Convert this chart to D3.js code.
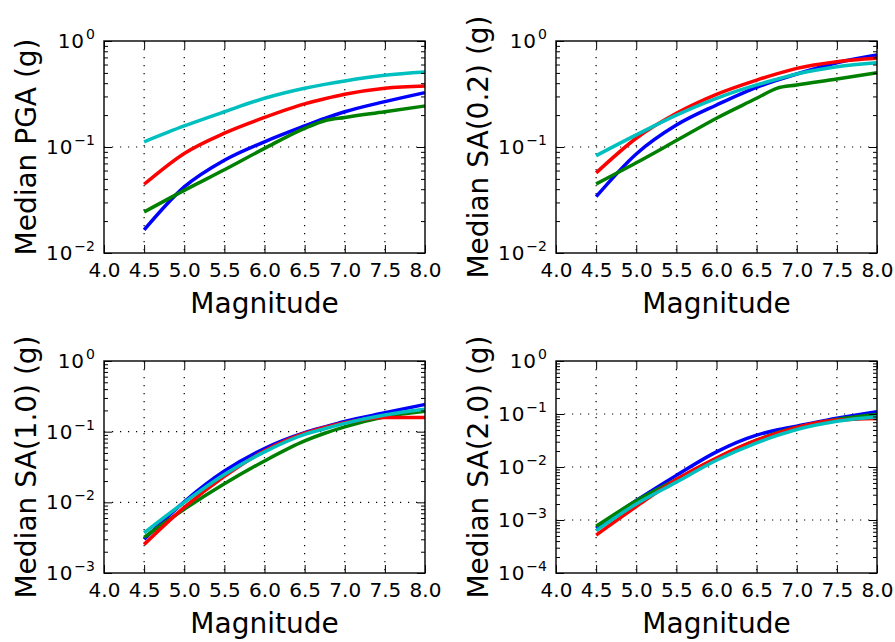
<!DOCTYPE html>
<html>
<head>
<meta charset="utf-8">
<script src="https://cdn.jsdelivr.net/npm/d3@7"></script>
<style>
  body { margin: 0; background: #fff; }
  text { font-family: "DejaVu Sans", sans-serif; fill: #000; }
  .tick line { stroke: #000; stroke-width: 1; }
  .domain { display: none; }
  .grid { stroke: #000; stroke-width: 1.2; stroke-dasharray: 1.2,6.8; }
  .line { fill: none; stroke-width: 3.5; }
</style>
</head>
<body>
<div class="chart"></div>
<script>
// magnitudes where the curves were read
var mags = [4.5, 5.0, 5.5, 6.0, 6.5, 6.75, 7.0, 7.5, 8.0];

// PGA
var pgaBlue  = [0.0165, 0.042, 0.075, 0.112, 0.158, 0.186, 0.215, 0.268, 0.326];
var pgaGreen = [0.0244, 0.039, 0.061, 0.097, 0.150, 0.177, 0.190, 0.215, 0.244];
var pgaRed   = [0.0445, 0.087, 0.135, 0.190, 0.255, 0.285, 0.314, 0.358, 0.376];
var pgaCyan  = [0.112, 0.158, 0.215, 0.288, 0.358, 0.390, 0.420, 0.475, 0.510];

// SA(0.2)
var sa02Blue  = [0.034, 0.086, 0.161, 0.249, 0.366, 0.425, 0.488, 0.624, 0.738];
var sa02Green = [0.0448, 0.071, 0.115, 0.187, 0.288, 0.358, 0.385, 0.438, 0.502];
var sa02Red   = [0.057, 0.121, 0.208, 0.314, 0.428, 0.490, 0.552, 0.638, 0.687];
var sa02Cyan  = [0.0828, 0.130, 0.200, 0.288, 0.385, 0.435, 0.488, 0.572, 0.624];

// SA(1.0)
var sa10Blue  = [0.0030, 0.0102, 0.0277, 0.0578, 0.0968, 0.117, 0.140, 0.185, 0.243];
var sa10Green = [0.0032, 0.0080, 0.0183, 0.0385, 0.074, 0.095, 0.117, 0.163, 0.195];
var sa10Red   = [0.00254, 0.0085, 0.0233, 0.0535, 0.095, 0.115, 0.134, 0.159, 0.159];
var sa10Cyan  = [0.0037, 0.0100, 0.0248, 0.0518, 0.0916, 0.110, 0.131, 0.172, 0.207];

// SA(2.0)
var sa20Blue  = [0.00070, 0.00233, 0.00695, 0.0193, 0.0399, 0.050, 0.059, 0.083, 0.110];
var sa20Green = [0.00076, 0.0023, 0.0058, 0.0145, 0.032, 0.044, 0.0557, 0.079, 0.098];
var sa20Red   = [0.00052, 0.00179, 0.0058, 0.0148, 0.032, 0.043, 0.0557, 0.0767, 0.0826];
var sa20Cyan  = [0.00063, 0.00201, 0.00519, 0.0134, 0.0286, 0.039, 0.051, 0.073, 0.089];

var xTicks = [4.0, 4.5, 5.0, 5.5, 6.0, 6.5, 7.0, 7.5, 8.0];
var yLabels = ["Median PGA (g)", "Median SA(0.2) (g)", "Median SA(1.0) (g)", "Median SA(2.0) (g)"];
var yMinExp = [-2, -2, -3, -4];
var colors = ["#0000ff", "#008000", "#ff0000", "#00bfbf"];

var panelSeries = [
  [pgaBlue, pgaGreen, pgaRed, pgaCyan],
  [sa02Blue, sa02Green, sa02Red, sa02Cyan],
  [sa10Blue, sa10Green, sa10Red, sa10Cyan],
  [sa20Blue, sa20Green, sa20Red, sa20Cyan]
];

var W = 895, H = 642;
var axW = 321, axH = 212;
var lefts = [104, 556, 104, 556], tops = [41, 41, 361, 361];

var svg = d3.select(".chart").append("svg")
    .attr("width", W)
    .attr("height", H)
    .style("display", "block");

panelSeries.forEach(function(series, p) {
  var g = svg.append("g").attr("transform", "translate(" + lefts[p] + "," + tops[p] + ")");

  var x = d3.scaleLinear().domain([4.0, 8.0]).range([0, axW]);
  var y = d3.scaleLog().domain([Math.pow(10, yMinExp[p]), 1]).range([axH, 0]);

  var majors = d3.range(yMinExp[p], 1).map(function(e) { return Math.pow(10, e); });
  var minors = [];
  d3.range(yMinExp[p], 0).forEach(function(e) {
    for (var k = 2; k <= 9; k++) minors.push(k * Math.pow(10, e));
  });

  // grid
  g.selectAll(".gx").data(xTicks.slice(1, -1)).enter().append("line")
      .attr("class", "grid")
      .attr("x1", function(d) { return x(d); }).attr("x2", function(d) { return x(d); })
      .attr("y1", 0).attr("y2", axH);
  g.selectAll(".gy").data(majors.slice(1, -1)).enter().append("line")
      .attr("class", "grid")
      .attr("y1", function(d) { return y(d); }).attr("y2", function(d) { return y(d); })
      .attr("x1", 0).attr("x2", axW);

  // lines
  var line = d3.line()
      .x(function(d) { return x(d[0]); })
      .y(function(d) { return y(d[1]); })
      .curve(d3.curveMonotoneX);
  series.forEach(function(vals, i) {
    g.append("path")
        .datum(mags.map(function(m, j) { return [m, vals[j]]; }))
        .attr("class", "line")
        .attr("stroke", colors[i])
        .attr("d", line);
  });

  // ticks (inward on all sides)
  g.append("g").attr("transform", "translate(0," + axH + ")")
      .call(d3.axisBottom(x).tickValues(xTicks).tickSize(-8).tickSizeOuter(0).tickPadding(10)
        .tickFormat(d3.format(".1f")))
      .selectAll("text").style("font-size", "20px").attr("dy", "0.71em");
  g.append("g")
      .call(d3.axisTop(x).tickValues(xTicks).tickSize(-8).tickSizeOuter(0).tickFormat(""));
  g.append("g")
      .call(d3.axisLeft(y).tickValues(majors).tickSize(-8).tickSizeOuter(0).tickFormat(""));
  g.append("g")
      .call(d3.axisLeft(y).tickValues(minors).tickSize(-4).tickSizeOuter(0).tickFormat(""));
  g.append("g").attr("transform", "translate(" + axW + ",0)")
      .call(d3.axisRight(y).tickValues(majors).tickSize(-8).tickSizeOuter(0).tickFormat(""));
  g.append("g").attr("transform", "translate(" + axW + ",0)")
      .call(d3.axisRight(y).tickValues(minors).tickSize(-4).tickSizeOuter(0).tickFormat(""));

  // y tick labels 10^n
  majors.forEach(function(v) {
    var e = Math.round(Math.log10(v));
    var t = g.append("text")
        .attr("x", -9)
        .attr("y", y(v) + 7)
        .attr("text-anchor", "end")
        .style("font-size", "20px")
        .style("letter-spacing", "1px")
        .text("10");
    t.append("tspan")
        .attr("dy", -9)
        .attr("dx", 1)
        .style("font-size", "14px")
        .style("letter-spacing", "0px")
        .text(e < 0 ? "\u2212" + (-e) : String(e));
  });

  // spines
  g.append("rect")
      .attr("width", axW).attr("height", axH)
      .attr("fill", "none").attr("stroke", "#000").attr("stroke-width", 1.4);

  // axis labels
  g.append("text")
      .attr("x", axW / 2)
      .attr("y", axH + 60)
      .attr("text-anchor", "middle")
      .style("font-size", "28px")
      .text("Magnitude");
  g.append("text")
      .attr("transform", "translate(-68," + (axH / 2) + ") rotate(-90)")
      .attr("text-anchor", "middle")
      .style("font-size", "28px")
      .text(yLabels[p]);
});
</script>
</body>
</html>
